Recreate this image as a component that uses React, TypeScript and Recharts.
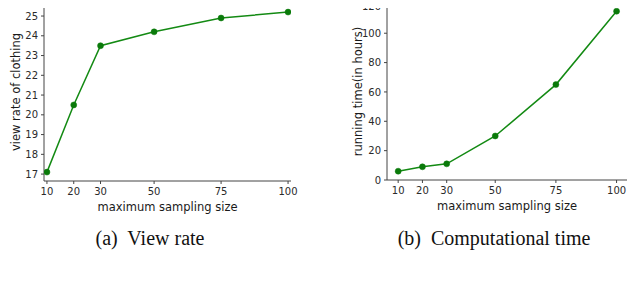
import React from "react";
import { LineChart, Line, XAxis, YAxis } from "recharts";

const sizes = [10, 20, 30, 50, 75, 100];
const viewRate = [17.1, 20.5, 23.5, 24.2, 24.9, 25.2];
const runTime = [6, 9, 11, 30, 65, 115];
const xTicks = [10, 20, 30, 50, 75, 100];
const viewTicks = [17, 18, 19, 20, 21, 22, 23, 24, 25];
const timeTicks = [0, 20, 40, 60, 80, 100, 120];

const viewData = sizes.map((s, i) => ({ size: s, value: viewRate[i] }));
const timeData = sizes.map((s, i) => ({ size: s, value: runTime[i] }));

const GREEN = "#138a13";
const AXIS = "#444";
const tickStyle = { fontFamily: "DejaVu Sans", fontSize: 10, fill: "#2a2a2a" };
const labelStyle = { fontFamily: "DejaVu Sans", fontSize: 11.5, fill: "#1a1a1a" };
const SHIFT = 12;

function YTick(p: any) {
  // keep the top label inside the picture
  const y = Math.max(p.y, SHIFT + 6);
  return (
    <text x={p.x} y={y} dy="0.36em" textAnchor="end" style={tickStyle}>
      {p.payload.value}
    </text>
  );
}

function XTick(p: any) {
  return (
    <text x={p.x} y={p.y} dy="0.8em" textAnchor="middle" style={tickStyle}>
      {p.payload.value}
    </text>
  );
}

function Panel(props: {
  data: { size: number; value: number }[];
  xDomain: [number, number];
  yDomain: [number, number];
  yTicks: number[];
  margin: { top: number; right: number; bottom: number; left: number };
  ylabel: string;
  ylabelOffset: number;
}) {
  const { data, xDomain, yDomain, yTicks, margin, ylabel, ylabelOffset } = props;
  return (
    <LineChart width={320} height={220 + SHIFT} data={data} margin={{ ...margin, top: margin.top + SHIFT }} style={{ overflow: "visible" }}>
      <XAxis
        xAxisId="b"
        dataKey="size"
        type="number"
        domain={xDomain}
        ticks={xTicks}
        interval={0}
        allowDataOverflow
        height={20}
        stroke={AXIS}
        tickSize={3}
        tickMargin={3}
        tick={<XTick />}
        label={{ value: "maximum sampling size", position: "insideBottom", offset: -10, style: labelStyle }}
      />
      <XAxis
        xAxisId="t"
        dataKey="size"
        type="number"
        orientation="top"
        domain={xDomain}
        allowDataOverflow
        height={0}
        tick={false}
        tickLine={false}
        stroke={AXIS}
      />
      <YAxis
        yAxisId="l"
        type="number"
        domain={yDomain}
        ticks={yTicks}
        interval={0}
        allowDataOverflow
        width={30}
        stroke={AXIS}
        tickSize={3}
        tickMargin={3}
        tick={<YTick />}
        label={{ value: ylabel, angle: -90, position: "insideLeft", offset: ylabelOffset, style: { ...labelStyle, textAnchor: "middle" } }}
      />
      <YAxis
        yAxisId="r"
        type="number"
        orientation="right"
        domain={yDomain}
        allowDataOverflow
        width={0}
        tick={false}
        tickLine={false}
        stroke={AXIS}
      />
      <Line
        xAxisId="b"
        yAxisId="l"
        dataKey="value"
        stroke={GREEN}
        strokeWidth={1.5}
        dot={{ r: 3, fill: "#0a7a0a", stroke: "#0a7a0a", strokeWidth: 0.5 }}
        isAnimationActive={false}
      />
    </LineChart>
  );
}

const captionStyle: React.CSSProperties = {
  position: "absolute",
  top: 225,
  fontFamily: "Liberation Serif",
  fontSize: 20,
  color: "#111",
  whiteSpace: "nowrap",
  transform: "translateX(-50%)",
  lineHeight: "26px",
};

export default function App() {
  return (
    <div style={{ position: "relative", width: 640, height: 281, margin: -8, background: "#fff", overflow: "hidden" }}>
      <div style={{ position: "absolute", left: 0, top: -SHIFT }}>
        <Panel
          data={viewData}
          xDomain={[8.9, 101.1]}
          yDomain={[16.65, 25.66]}
          yTicks={viewTicks}
          margin={{ top: 3, right: 29, bottom: 19, left: 14 }}
          ylabel="view rate of clothing"
          ylabelOffset={2}
        />
      </div>
      <div style={{ position: "absolute", left: 320, top: -SHIFT }}>
        <Panel
          data={timeData}
          xDomain={[5.4, 104.3]}
          yDomain={[0, 120.6]}
          yTicks={timeTicks}
          margin={{ top: 3, right: 13, bottom: 20, left: 37 }}
          ylabel="running time(in hours)"
          ylabelOffset={1}
        />
      </div>
      <div style={{ ...captionStyle, left: 150 }}>(a)&nbsp; View rate</div>
      <div style={{ ...captionStyle, left: 494 }}>(b)&nbsp; Computational time</div>
    </div>
  );
}
